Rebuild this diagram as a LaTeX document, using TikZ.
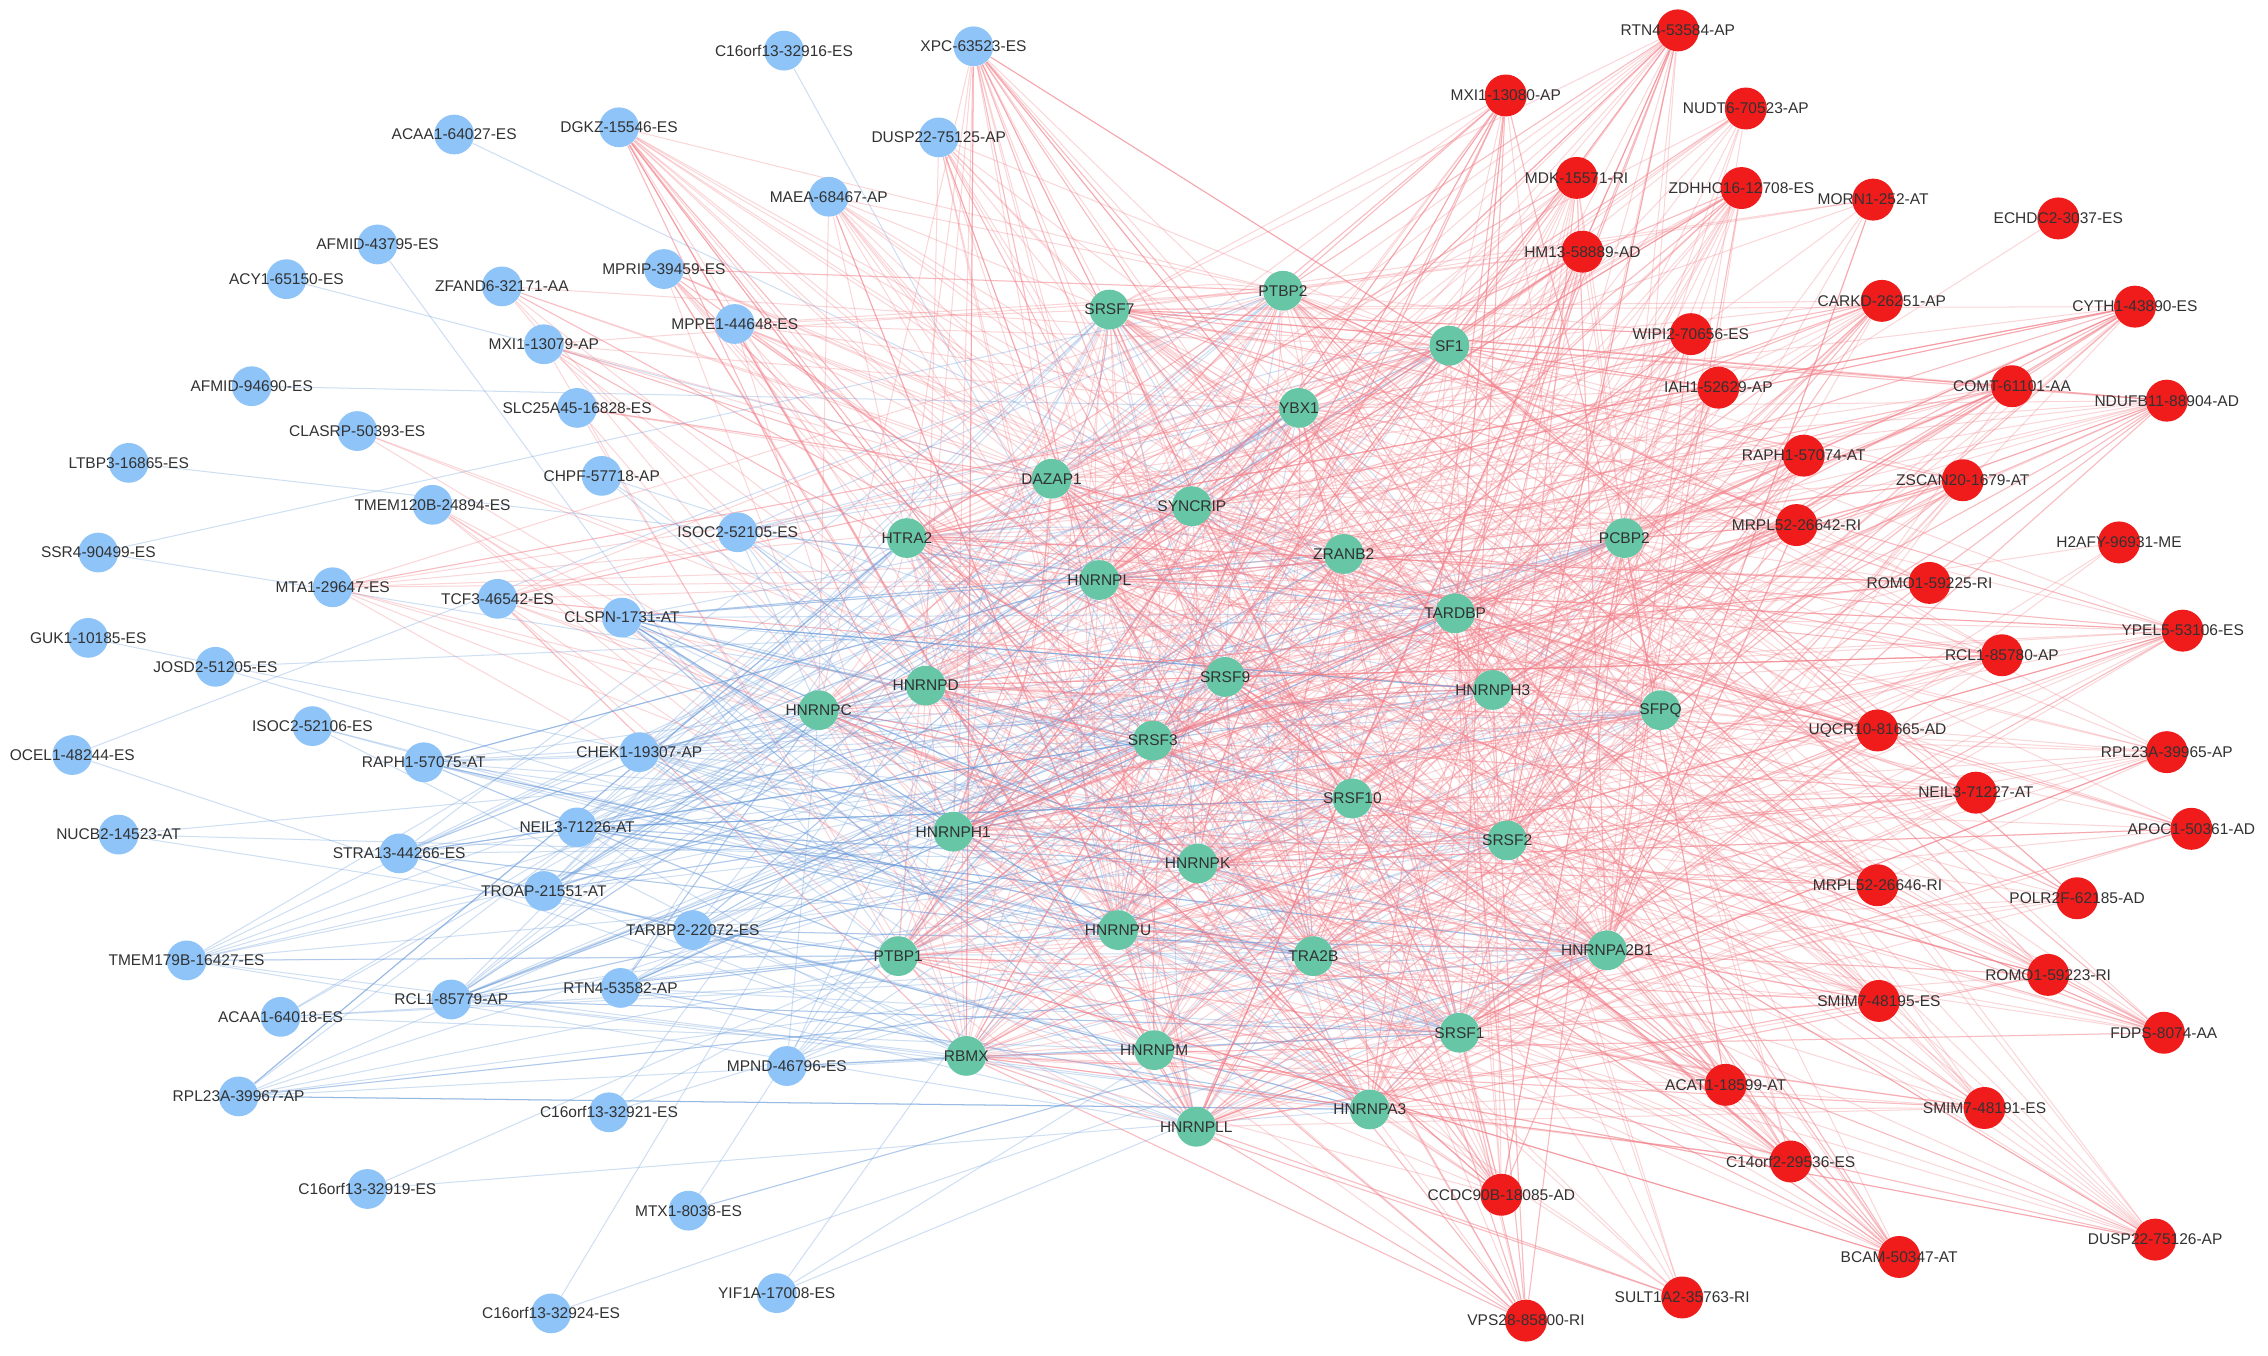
\documentclass[tikz,border=0pt]{standalone}
\usepackage{fontspec}
\setmainfont{Liberation Sans}
\pgfdeclarelayer{bg}
\pgfdeclarelayer{edges}
\pgfsetlayers{bg,edges,main}
\definecolor{greenn}{RGB}{102,198,166}
\definecolor{bluen}{RGB}{142,196,248}
\definecolor{redn}{RGB}{240,28,28}
\definecolor{eR}{RGB}{244,128,138}
\definecolor{eB}{RGB}{105,155,218}
\definecolor{txt}{RGB}{50,50,50}
\def\greenlist{1/767/214/SRSF7,2/887/201/PTBP2,3/1002/239/SF1,4/898/282/YBX1,5/727/331/DAZAP1,6/824/350/SYNCRIP,7/627/372/HTRA2,8/929/383/ZRANB2,9/760/401/HNRNPL,10/1123/372/PCBP2,11/1006/424/TARDBP,12/640/474/HNRNPD,13/566/491/HNRNPC,14/847/468/SRSF9,15/1032/477/HNRNPH3,16/1148/491/SFPQ,17/797/512/SRSF3,18/935/552/SRSF10,19/659/575/HNRNPH1,20/1042/581/SRSF2,21/828/597/HNRNPK,22/773/643/HNRNPU,23/621/661/PTBP1,24/908/661/TRA2B,25/1111/657/HNRNPA2B1,26/668/730/RBMX,27/798/726/HNRNPM,28/1009/714/SRSF1,29/947/767/HNRNPA3,30/827/779/HNRNPLL}
\def\bluelist{1/542/35/1/eB/C16orf13-32916-ES,2/673/32/24/eR/XPC-63523-ES,3/314/93/1/eB/ACAA1-64027-ES,4/428/88/18/eR/DGKZ-15546-ES,5/649/95/12/eR/DUSP22-75125-AP,6/573/136/12/eR/MAEA-68467-AP,7/261/169/1/eB/AFMID-43795-ES,8/198/193/1/eB/ACY1-65150-ES,9/347/198/6/eR/ZFAND6-32171-AA,10/459/186/12/eR/MPRIP-39459-ES,11/508/224/10/eR/MPPE1-44648-ES,12/376/238/8/eR/MXI1-13079-AP,13/174/267/1/eB/AFMID-94690-ES,14/399/282/4/eR/SLC25A45-16828-ES,15/247/298/3/eR/CLASRP-50393-ES,16/89/320/1/eB/LTBP3-16865-ES,17/416/329/3/eB/CHPF-57718-AP,18/299/349/4/eR/TMEM120B-24894-ES,19/510/368/8/eB/ISOC2-52105-ES,20/68/382/2/eB/SSR4-90499-ES,21/230/406/8/eR/MTA1-29647-ES,22/344/414/10/eR/TCF3-46542-ES,23/430/427/20/eB/CLSPN-1731-AT,24/61/441/1/eB/GUK1-10185-ES,25/149/461/2/eB/JOSD2-51205-ES,26/216/502/3/eB/ISOC2-52106-ES,27/50/522/2/eB/OCEL1-48244-ES,28/293/527/12/eB/RAPH1-57075-AT,29/442/520/14/eB/CHEK1-19307-AP,30/82/577/3/eB/NUCB2-14523-AT,31/399/572/16/eB/NEIL3-71226-AT,32/276/590/12/eB/STRA13-44266-ES,33/376/616/12/eB/TROAP-21551-AT,34/479/643/12/eB/TARBP2-22072-ES,35/129/664/8/eB/TMEM179B-16427-ES,36/312/691/16/eB/RCL1-85779-AP,37/429/683/12/eB/RTN4-53582-AP,38/194/703/4/eB/ACAA1-64018-ES,39/544/737/8/eB/MPND-46796-ES,40/165/758/10/eB/RPL23A-39967-AP,41/421/769/3/eB/C16orf13-32921-ES,42/254/822/2/eB/C16orf13-32919-ES,43/476/837/3/eB/MTX1-8038-ES,44/537/894/3/eB/YIF1A-17008-ES,45/381/908/2/eB/C16orf13-32924-ES}
\def\redlist{1/1160/21/22/RTN4-53584-AP,2/1041/66/20/MXI1-13080-AP,3/1207/75/8/NUDT6-70523-AP,4/1090/123/15/MDK-15571-RI,5/1204/130/18/ZDHHC16-12708-ES,6/1295/138/6/MORN1-252-AT,7/1423/151/1/ECHDC2-3037-ES,8/1094/174/15/HM13-58889-AD,9/1301/208/18/CARKD-26251-AP,10/1476/212/20/CYTH1-43890-ES,11/1169/231/15/WIPI2-70656-ES,12/1188/268/15/IAH1-52629-AP,13/1391/267/15/COMT-61101-AA,14/1498/277/18/NDUFB11-88904-AD,15/1247/315/15/RAPH1-57074-AT,16/1357/332/15/ZSCAN20-1679-AT,17/1242/363/15/MRPL52-26642-RI,18/1465/375/3/H2AFY-96931-ME,19/1334/403/12/ROMO1-59225-RI,20/1509/436/18/YPEL5-53106-ES,21/1384/453/15/RCL1-85780-AP,22/1298/505/18/UQCR10-81665-AD,23/1498/520/12/RPL23A-39965-AP,24/1366/548/15/NEIL3-71227-AT,25/1515/573/10/APOC1-50361-AD,26/1298/612/15/MRPL52-26646-RI,27/1436/621/10/POLR2F-62185-AD,28/1416/674/12/ROMO1-59223-RI,29/1299/692/15/SMIM7-48195-ES,30/1496/714/15/FDPS-8074-AA,31/1193/750/18/ACAT1-18599-AT,32/1372/766/12/SMIM7-48191-ES,33/1238/803/15/C14orf2-29536-ES,34/1038/826/20/CCDC90B-18085-AD,35/1313/869/18/BCAM-50347-AT,36/1490/857/15/DUSP22-75126-AP,37/1163/897/8/SULT1A2-35763-RI,38/1055/913/18/VPS28-85800-RI}
\begin{document}
\begin{tikzpicture}[x=0.02cm,y=-0.02cm,
  nd/.style={circle,minimum size=0.55cm,inner sep=0pt,draw=none},
  gn/.style={nd,fill=greenn},
  bn/.style={nd,fill=bluen},
  rn/.style={nd,fill=redn,minimum size=0.58cm},
  lbl/.style={font=\fontsize{6.1}{7}\selectfont,text=txt,inner sep=0pt},
  edge/.style={line width=0.4pt,draw opacity=0.32}]
\begin{pgfonlayer}{bg}
\fill[white] (0,0) rectangle (1568,937);
\end{pgfonlayer}
\useasboundingbox (0,0) rectangle (1568,937);
\pgfmathsetseed{2024}
% circles
\foreach \i/\x/\y/\t in \greenlist {\node[gn] (g\i) at (\x,\y) {};}
\foreach \i/\x/\y/\k/\c/\t in \bluelist {\node[bn] (b\i) at (\x,\y) {};}
\foreach \i/\x/\y/\k/\t in \redlist {\node[rn] (r\i) at (\x,\y) {};}
% labels
\foreach \i/\x/\y/\t in \greenlist {\node[lbl] (gl\i) at (g\i) {\t};}
\foreach \i/\x/\y/\k/\c/\t in \bluelist {\node[lbl] (bl\i) at (b\i) {\t};}
\foreach \i/\x/\y/\k/\t in \redlist {\node[lbl] (rl\i) at (r\i) {\t};}
% edges
\begin{pgfonlayer}{edges}
\foreach \j in {1,...,300} {
  \pgfmathrandominteger{\ga}{1}{30}
  \pgfmathrandominteger{\gb}{1}{30}
  \pgfmathrandominteger{\cc}{1}{5}
  \ifnum\ga=\gb\relax\else
    \ifnum\cc=1 \draw[edge,draw=eB] (g\ga) to[bend left=14] (g\gb);
    \else \draw[edge,draw=eR] (g\ga) to[bend left=14] (g\gb);\fi
  \fi
}
\foreach \i/\x/\y/\k/\c/\t in \bluelist {
  \pgfmathtruncatemacro\kk{\k>3 ? \k*1.35+0.5 : \k}
  \foreach \j in {1,...,\kk} {
    \pgfmathrandominteger{\gg}{1}{30}
    \draw[edge,draw=\c] (b\i) -- (g\gg);
  }
}
\foreach \i/\x/\y/\k/\t in \redlist {
  \pgfmathtruncatemacro\kk{\k>3 ? \k*1.45+0.5 : \k}
  \foreach \j in {1,...,\kk} {
    \pgfmathrandominteger{\gg}{1}{30}
    \draw[edge,draw=eR] (r\i) -- (g\gg);
  }
}
\end{pgfonlayer}
\end{tikzpicture}
\end{document}
